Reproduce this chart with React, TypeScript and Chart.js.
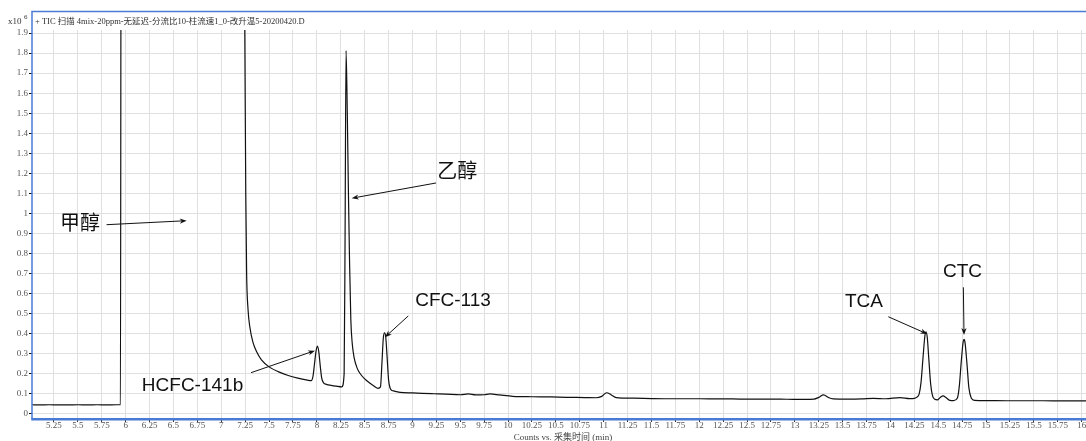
import { useEffect, useRef } from "react";
import { Chart, registerables } from "chart.js";

Chart.register(...registerables);

// Total ion chromatogram, counts in units of 10^6 against acquisition time (min)
const retentionTimes = [
  5.02, 5.1, 5.2, 5.3, 5.4, 5.5, 5.6, 5.7, 5.8, 5.9, 5.945, 5.953,
  7.236, 7.246, 7.256, 7.265, 7.28, 7.3, 7.33, 7.37, 7.42, 7.5, 7.6, 7.7, 7.8, 7.9,
  7.94, 7.96, 7.975, 7.99, 8.005, 8.02, 8.035, 8.05, 8.07, 8.1, 8.15, 8.2, 8.26,
  8.285, 8.295, 8.305, 8.318, 8.33, 8.342, 8.355, 8.37, 8.39, 8.42, 8.45, 8.5, 8.556,
  8.6, 8.64, 8.665, 8.68, 8.695, 8.708, 8.72, 8.735, 8.75, 8.77, 8.8, 8.87,
  9.0, 9.1, 9.22, 9.35, 9.5, 9.585, 9.66, 9.75, 9.81, 9.91, 10.05, 10.25, 10.45,
  10.61, 10.8, 10.92, 10.98, 11.03, 11.08, 11.13, 11.31, 11.5, 11.66, 11.85, 12.01,
  12.2, 12.35, 12.5, 12.7, 12.85, 12.98, 13.1, 13.2, 13.25, 13.3, 13.35, 13.4, 13.55,
  13.7, 13.82, 13.95, 14.1, 14.2, 14.25, 14.28, 14.3, 14.32, 14.34, 14.36, 14.372,
  14.385, 14.4, 14.42, 14.44, 14.465, 14.49, 14.52, 14.55, 14.58, 14.62, 14.66, 14.7,
  14.72, 14.74, 14.76, 14.77, 14.78, 14.8, 14.82, 14.845, 14.88, 15.0, 15.215, 15.4,
  15.6, 15.8, 16.05,
];

const ticCounts = [
  0.046, 0.045, 0.046, 0.045, 0.045, 0.046, 0.045, 0.046, 0.045, 0.046, 0.047, 3.0,
  3.0, 1.9, 1.1, 0.7, 0.52, 0.43, 0.36, 0.31, 0.27, 0.235, 0.21, 0.192, 0.179, 0.169,
  0.166, 0.19, 0.25, 0.31, 0.339, 0.31, 0.24, 0.18, 0.155, 0.148, 0.143, 0.139, 0.135,
  0.2, 0.9, 1.812, 1.5, 1.1, 0.75, 0.47, 0.35, 0.28, 0.23, 0.203, 0.175, 0.153,
  0.138, 0.128, 0.135, 0.25, 0.38, 0.405, 0.385, 0.28, 0.17, 0.125, 0.115, 0.108,
  0.105, 0.103, 0.101, 0.099, 0.096, 0.1, 0.095, 0.096, 0.1, 0.095, 0.088, 0.086, 0.085,
  0.083, 0.082, 0.081, 0.088, 0.106, 0.095, 0.082, 0.079, 0.077, 0.076, 0.076, 0.076,
  0.075, 0.075, 0.074, 0.074, 0.074, 0.073, 0.073, 0.074, 0.083, 0.095, 0.082, 0.075, 0.074,
  0.075, 0.078, 0.076, 0.082, 0.077, 0.078, 0.085, 0.1, 0.16, 0.28, 0.39, 0.41,
  0.38, 0.28, 0.15, 0.09, 0.073, 0.07, 0.082, 0.09, 0.082, 0.068, 0.067, 0.08,
  0.14, 0.26, 0.36, 0.372, 0.355, 0.25, 0.13, 0.08, 0.068, 0.067, 0.066, 0.066,
  0.066, 0.065, 0.065,
];

const xTickStep = 0.25;
const yTickStep = 0.1;

const headerText = "+ TIC 扫描 4mix-20ppm-无延迟-分流比10-柱流速1_0-改升温5-20200420.D";
const xAxisTitle = "Counts vs. 采集时间 (min)";

// Peak names and the arrows pointing at them, in data coordinates (min, 10^6 counts)
const peakNames = ["甲醇", "乙醇", "HCFC-141b", "CFC-113", "TCA", "CTC"];
const peakNameAt = [
  [5.522, 0.953],
  [9.467, 1.217],
  [6.699, 0.14],
  [9.424, 0.566],
  [13.723, 0.561],
  [14.753, 0.708],
];
const arrowTail = [
  [5.8, 0.944],
  [9.246, 1.152],
  [7.311, 0.206],
  [8.956, 0.489],
  [13.977, 0.485],
  [14.762, 0.632],
];
const arrowHead = [
  [6.638, 0.964],
  [8.364, 1.076],
  [7.98, 0.316],
  [8.712, 0.383],
  [14.385, 0.399],
  [14.769, 0.394],
];

const SERIF = "'Liberation Serif', 'Noto Sans CJK SC', serif";
const SANS = "'Liberation Sans', 'Noto Sans CJK SC', sans-serif";
const FRAME_BLUE = "#4a7bd4";

const fmt = (v: number) => String(Math.round(v * 100) / 100);

const drawArrow = (ctx: CanvasRenderingContext2D, x0: number, y0: number, x1: number, y1: number) => {
  const ang = Math.atan2(y1 - y0, x1 - x0);
  const len = 7;
  const half = 2.6;
  ctx.beginPath();
  ctx.moveTo(x0, y0);
  ctx.lineTo(x1 - Math.cos(ang) * 3, y1 - Math.sin(ang) * 3);
  ctx.stroke();
  ctx.beginPath();
  ctx.moveTo(x1, y1);
  ctx.lineTo(x1 - len * Math.cos(ang) + half * Math.sin(ang), y1 - len * Math.sin(ang) - half * Math.cos(ang));
  ctx.lineTo(x1 - len * 0.7 * Math.cos(ang), y1 - len * 0.7 * Math.sin(ang));
  ctx.lineTo(x1 - len * Math.cos(ang) - half * Math.sin(ang), y1 - len * Math.sin(ang) + half * Math.cos(ang));
  ctx.closePath();
  ctx.fill();
};

const decorations = {
  id: "decorations",
  beforeDraw(chart: any) {
    const ctx = chart.ctx as CanvasRenderingContext2D;
    ctx.save();
    ctx.fillStyle = "#ffffff";
    ctx.fillRect(0, 0, chart.width, chart.height);
    ctx.restore();
  },
  afterDraw(chart: any) {
    const ctx = chart.ctx as CanvasRenderingContext2D;
    const a = chart.chartArea;
    const xs = chart.scales.x;
    const ys = chart.scales.y;
    ctx.save();

    // blue frame around the plot
    ctx.strokeStyle = FRAME_BLUE;
    ctx.lineWidth = 1.5;
    ctx.beginPath();
    ctx.moveTo(chart.width, a.top - 18.5);
    ctx.lineTo(a.left, a.top - 18.5);
    ctx.lineTo(a.left, a.bottom + 1);
    ctx.stroke();
    ctx.lineWidth = 2.5;
    ctx.beginPath();
    ctx.moveTo(a.left - 0.75, a.bottom + 1.2);
    ctx.lineTo(chart.width, a.bottom + 1.2);
    ctx.stroke();

    // header: scale factor and data file
    ctx.fillStyle = "#333";
    ctx.textBaseline = "alphabetic";
    ctx.textAlign = "left";
    ctx.font = `9px ${SERIF}`;
    ctx.fillText("x10", 8, 24);
    ctx.font = `7px ${SERIF}`;
    ctx.fillText("6", 24, 19);
    ctx.font = `8.5px ${SERIF}`;
    ctx.fillText(headerText, a.left + 3, 23.5);

    // x axis title
    ctx.fillStyle = "#444";
    ctx.font = `9px ${SERIF}`;
    ctx.textAlign = "center";
    ctx.textBaseline = "middle";
    ctx.fillText(xAxisTitle, 563, 437.5);

    // peak annotations
    ctx.fillStyle = "#111";
    ctx.strokeStyle = "#111";
    ctx.lineWidth = 1;
    peakNames.forEach((name, i) => {
      const isCjk = /[\u4e00-\u9fff]/.test(name);
      ctx.font = isCjk ? `20px 'Noto Sans CJK SC', sans-serif` : `19px ${SANS}`;
      ctx.textAlign = "center";
      ctx.textBaseline = "middle";
      ctx.fillText(name, xs.getPixelForValue(peakNameAt[i][0]), ys.getPixelForValue(peakNameAt[i][1]));
      drawArrow(
        ctx,
        xs.getPixelForValue(arrowTail[i][0]),
        ys.getPixelForValue(arrowTail[i][1]),
        xs.getPixelForValue(arrowHead[i][0]),
        ys.getPixelForValue(arrowHead[i][1])
      );
    });
    ctx.restore();
  },
};

export default function App() {
  const canvasRef = useRef<HTMLCanvasElement | null>(null);

  useEffect(() => {
    document.body.style.margin = "0";
    const canvas = canvasRef.current;
    if (!canvas) return;
    const points = retentionTimes.map((t, i) => ({ x: t, y: ticCounts[i] }));
    const chart = new Chart(canvas, {
      type: "line",
      data: {
        datasets: [
          {
            label: "TIC",
            data: points,
            borderColor: "#111",
            borderWidth: 1.2,
            pointRadius: 0,
            fill: false,
            cubicInterpolationMode: "monotone",
          },
        ],
      },
      options: {
        responsive: false,
        animation: false,
        devicePixelRatio: 1,
        layout: { padding: { top: 30, right: 0, left: 0, bottom: 0 } },
        plugins: {
          legend: { display: false },
          tooltip: { enabled: false },
          title: { display: false },
        },
        scales: {
          x: {
            type: "linear",
            min: 5.02,
            max: 16.045,
            border: { display: false },
            grid: { color: "#e0e0e0", lineWidth: 1, tickLength: 4, tickColor: "#333" },
            ticks: {
              stepSize: xTickStep,
              includeBounds: false,
              autoSkip: false,
              maxRotation: 0,
              minRotation: 0,
              padding: -2,
              color: "#555",
              font: { family: SERIF, size: 9 },
              callback: (v: any) => fmt(Number(v)),
            },
            afterFit: (scale: any) => {
              scale.height = 23;
              scale.paddingLeft = 0;
              scale.paddingRight = 0;
            },
          },
          y: {
            type: "linear",
            min: -0.02,
            max: 1.915,
            border: { display: false },
            grid: { color: "#e0e0e0", lineWidth: 1, tickLength: 3, tickColor: "#111" },
            ticks: {
              stepSize: yTickStep,
              includeBounds: false,
              padding: 1,
              color: "#555",
              font: { family: SERIF, size: 9 },
              callback: (v: any) => fmt(Number(v)),
            },
            afterFit: (scale: any) => {
              scale.width = 32;
              scale.paddingTop = 0;
              scale.paddingBottom = 0;
            },
          },
        },
      },
      plugins: [decorations],
    });
    return () => chart.destroy();
  }, []);

  return (
    <div style={{ position: "absolute", left: 0, top: 0, width: 1086, height: 441, background: "#fff" }}>
      <canvas ref={canvasRef} width={1086} height={441} style={{ display: "block" }} />
    </div>
  );
}
